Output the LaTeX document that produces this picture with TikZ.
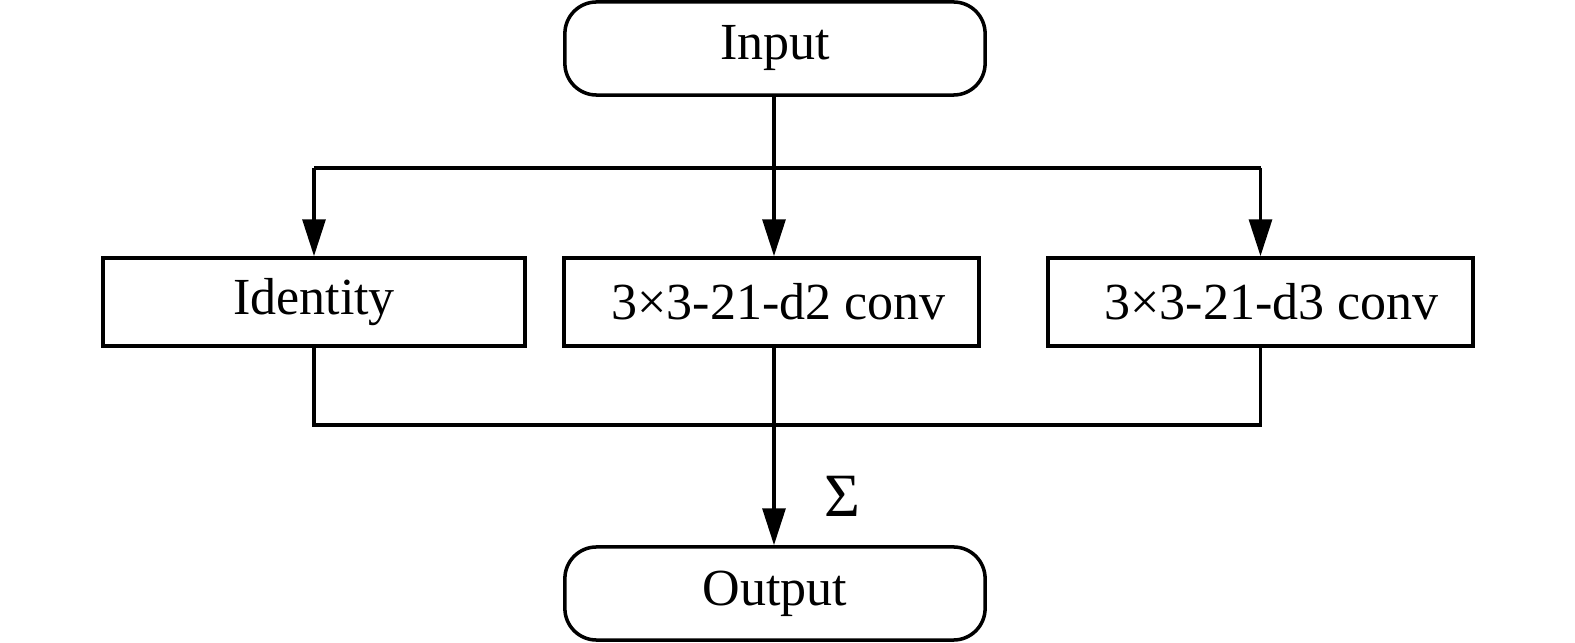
\documentclass[tikz,border=0pt]{standalone}
\usepackage{fontspec}
\setmainfont{Liberation Serif}
\usetikzlibrary{arrows.meta,positioning}

\begin{document}
\begin{tikzpicture}[x=0.01cm,y=-0.01cm,font=\fontsize{14.8}{17}\selectfont]
	\tikzset{>={Triangle[length=10.5pt,width=6.5pt]}}
	\tikzset{endbox/.style={draw,line width=1pt,rounded corners=9pt,minimum width=4.2cm,minimum height=0.93cm}}
	\tikzset{opbox/.style={draw,line width=1pt,minimum width=4.22cm,minimum height=0.88cm}}
	\tikzset{wire/.style={line width=1pt}}
	\useasboundingbox (0,0) rectangle (1575,643);
	\node[endbox] (input) at (775,48.5) {Input};
	\node[opbox] (ident) at (314,302) {Identity};
	\node[opbox,minimum width=4.15cm] (convtwo) at (771.5,302) {\hspace{0.14cm}3×3-21-d2 conv};
	\node[opbox,minimum width=4.25cm] (convthree) at (1260.5,302) {\hspace{0.22cm}3×3-21-d3 conv};
	\node[endbox] (output) at (775,593.5) {Output};
	\node[font=\fontsize{17.5}{20}\selectfont] (sum) at (842,496) {Σ};
	% split and merge points
	\coordinate (split) at (774,168);
	\coordinate (merge) at (774,425);
	\draw[wire] (split -| ident.north) -- (split -| convthree.north);
	\draw[wire,->] (input.south -| split) -- (split |- convtwo.north);
	\draw[wire,->] (split -| ident.north) -- (ident.north);
	\draw[wire,->] (split -| convthree.north) -- (convthree.north);
	\draw[wire] (ident.south) |- (merge) -| (convthree.south);
	\draw[wire,->] (convtwo.south -| merge) -- (merge |- output.north);
\end{tikzpicture}
\end{document}
